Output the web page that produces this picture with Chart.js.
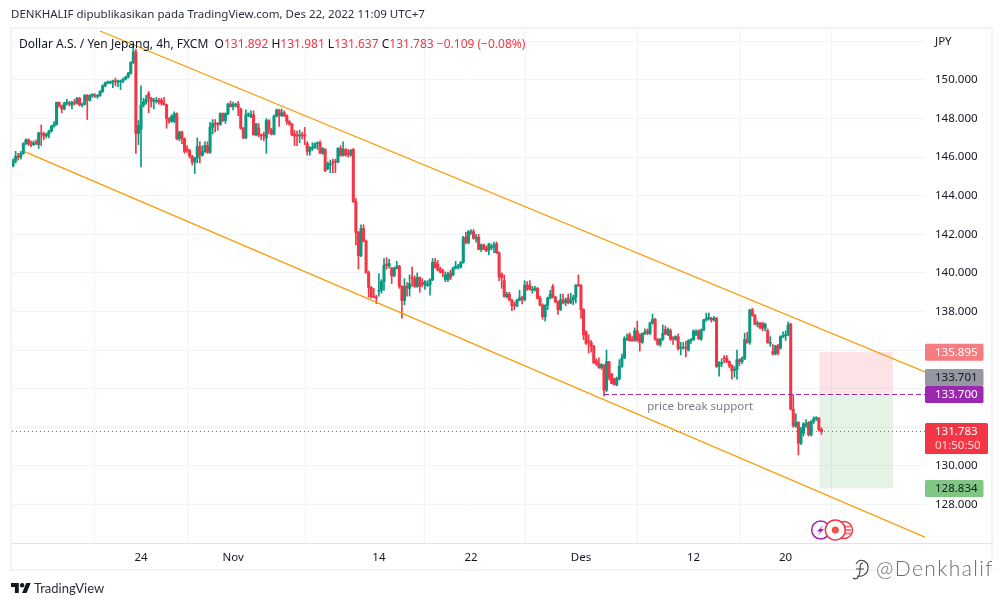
<!DOCTYPE html>
<html>
<head>
<meta charset="utf-8">
<title>USDJPY 4h</title>
<script src="https://cdn.jsdelivr.net/npm/chart.js@4/dist/chart.umd.min.js"></script>
<style>
  body { margin: 0; background: #fff; width: 1004px; height: 607px; overflow: hidden; position: relative; font-family: "Noto Sans", sans-serif; }
  #frame { position: absolute; left: 10px; top: 27px; width: 979px; height: 540px; border: 2px solid #f0f3fa; }
  #timeline { position: absolute; left: 12px; top: 543px; width: 981px; height: 1px; background: #e0e3eb; }
  canvas { position: absolute; left: 0; top: 0; }
  .txt { position: absolute; white-space: pre; }
  #head { left: 11px; top: 6px; font-size: 11.5px; color: #2a2e39; }
  #legend { left: 19px; top: 35px; font-size: 12px; color: #131722; }
  #legend span { color: #f23645; }
  #brand { left: 34px; top: 580px; font: 13px Lato, sans-serif; color: #2a2e39; }
  #logo { position: absolute; left: 11px; top: 583px; }
</style>
</head>
<body>
<div id="frame"></div>
<div id="timeline"></div>
<canvas id="chart" width="1004" height="607"></canvas>
<div class="txt" id="head">DENKHALIF dipublikasikan pada TradingView.com, Des 22, 2022 11:09 UTC+7</div>
<div class="txt" id="legend">Dollar A.S. / Yen Jepang, 4h, FXCM  O<span>131.892</span> H<span>131.981</span> L<span>131.637</span> C<span>131.783</span> <span>−0.109 (−0.08%)</span></div>
<svg id="logo" width="20" height="10" viewBox="0 4 36 18"><path fill="#131722" d="M14 22H7V11H0V4h14v18zM28 22h-8l7.5-18h8L28 22z"/><circle fill="#131722" cx="20" cy="8" r="4"/></svg>
<div class="txt" id="brand">TradingView</div>
<script>
const opens = [
  145.55,145.8,146.05,146,146.2,146.7,146.9,146.7,146.65,146.75,
  146.65,147.25,147.2,147.1,147.2,147.35,147.6,147.7,148.85,148.65,
  148.5,148.8,148.8,148.7,148.85,148.8,149.05,148.7,148.75,149.2,
  148.95,149.2,149.2,149.15,149.2,149.4,149.7,149.85,149.85,149.9,
  149.95,149.9,149.9,149.95,150.05,150.15,150.35,150.92,151.46,147.23,
  147.45,148.7,148.87,149.3,149.05,148.9,148.9,148.95,148.95,148.8,
  148.72,148,147.85,147.85,148.25,146.95,147.3,146.95,146.45,146.35,
  146.05,145.75,145.95,146.55,146.1,146.3,146.6,146.25,147.55,147.75,
  147.72,147.7,148.27,147.9,148.25,148.75,148.62,148.7,148.75,148.5,
  147.5,147,148.2,148.1,148.2,147.15,147.5,147.15,147.12,147,
  147.9,147.4,147.2,148.13,148.44,148.15,148.3,148.15,147.85,147.72,
  147.2,147.15,147.1,147.15,147.15,146.7,146.3,146.45,146.5,146.7,
  146.75,146.2,146.4,145.4,145.6,145.75,145.8,145.75,146.45,146.1,
  146.4,146.2,146.1,146.4,143.7,142.1,140.9,142.3,141.65,140,
  139.25,138.8,138.75,139.05,139.1,139.55,140.45,140.35,140.25,139.85,
  140.25,140.35,139.3,138.57,139.3,139.2,139.75,139.7,139.3,139.77,
  139.5,139.4,139.35,139.4,139.65,140.55,140.45,140.2,140.1,139.65,
  139.65,140,139.9,140.25,140.3,140.3,140.55,141.84,141.57,142.1,
  142.14,141.8,141.85,141.22,141.45,141.3,141.2,141.3,141.35,141.5,
  141.05,139.95,139.6,138.77,138.9,138.6,138.35,138.3,138.6,138.72,
  138.62,139.37,139.37,139.1,139.15,139.2,138.68,138.33,137.73,138.33,
  138.7,139.3,138.75,138.5,138.1,138.6,138.45,138.7,138.45,138.6,
  138.75,139.37,139.37,138.1,136.95,136.45,136.4,136.2,135.45,135.3,
  135.1,135.23,133.93,135.4,134.76,134.5,134.2,134.5,135.17,135.6,
  136.55,136.8,136.55,136.5,137,136.8,136.4,136.87,137,136.87,
  137.4,137.6,136.57,136.3,136.57,137.07,136.83,137,136.6,136.57,
  136.7,136.1,136.1,136.15,136,136.5,136.55,136.82,137,136.58,
  137.05,137.57,137.65,137.65,137.57,137.65,135.15,135.3,135.6,135.58,
  135.41,135.2,134.94,135,135.5,135.41,135.58,136.55,136.4,138.08,
  137.79,137.34,137.4,137.4,137.13,137,136.35,135.93,135.8,136.22,
  136.1,136.7,136.75,136.8,137.35,132.94,132.07,132.25,131.18,131.7,
  132.1,132.25,131.61,132.3,132.45,132.47,131.892
];
const highs = [
  145.9,146.3,146.2,146.3,146.75,146.95,146.95,146.85,146.85,146.9,
  147.3,147.67,147.3,147.25,147.4,147.65,147.85,148.85,148.85,148.7,
  148.85,149,148.9,148.9,149,149.1,149.1,148.8,149.25,149.25,
  149.25,149.3,149.3,149.25,149.45,149.75,149.9,149.95,149.95,150,
  150.1,150,150,150.1,150.2,150.4,150.95,151.8,151.6,147.9,
  149.7,149.05,149.2,149.4,149.1,149.05,149.1,149.05,149.05,149.1,
  148.75,148.05,148.2,148.35,148.3,147.35,147.35,147,146.6,146.4,
  146.1,146,147,146.8,146.6,146.8,146.8,147.8,147.95,147.95,
  147.8,148.3,148.3,148.3,148.8,148.9,148.85,148.8,148.9,148.55,
  147.55,148.45,148.3,148.4,148.4,147.75,147.75,147.2,147.3,148,
  147.95,147.5,148.2,148.5,148.48,148.5,148.4,148.2,147.9,147.75,
  147.4,147.35,147.4,147.3,147.55,146.8,146.55,146.75,146.75,146.8,
  146.85,146.5,146.45,145.75,145.85,145.9,145.9,146.5,146.6,146.8,
  146.45,146.4,146.4,146.45,143.85,142.15,142.5,142.5,141.7,140.1,
  139.3,139.2,138.85,139.95,139.65,140.75,140.8,140.7,140.3,140.3,
  140.6,140.4,139.35,139.7,139.5,139.9,140.3,139.85,140,139.8,
  139.7,139.6,139.6,139.7,140.75,140.75,140.65,140.3,140.2,140.05,
  140.05,140.15,140.3,140.6,140.45,140.6,141.9,142.1,142.2,142.25,
  142.25,142,142,141.5,141.5,141.4,141.55,141.5,141.6,141.6,
  141.1,140,139.9,139,139,138.65,138.5,138.65,139.1,138.8,
  139.6,139.55,139.6,139.3,139.3,139.25,138.8,138.4,138.35,138.75,
  139.1,139.4,138.8,138.55,138.9,138.9,138.7,138.9,138.95,138.85,
  139.4,139.9,139.4,138.15,137,136.8,136.5,136.25,135.55,135.6,
  135.3,135.25,136,135.42,134.8,134.55,134.6,135.5,135.8,136.7,
  136.85,136.9,136.7,137.15,137.5,136.85,136.9,137.1,137.1,137.45,
  137.87,137.65,136.6,136.6,137.3,137.25,137.15,137.1,136.7,136.75,
  136.85,136.4,136.4,136.45,136.55,136.6,137.05,137.05,137.05,137.1,
  137.6,137.92,137.92,137.7,137.75,137.7,135.4,135.55,135.72,135.72,
  135.45,135.25,135.15,136,135.55,135.65,136.87,136.93,138.12,138.17,
  137.85,137.5,137.43,137.43,137.4,137.1,136.7,136.3,136.25,136.3,
  136.75,136.95,137,137.45,137.4,133.7,132.7,132.3,132,132.25,
  132.4,132.3,132.35,132.55,132.55,132.5,131.981
];
const lows = [
  145.5,145.7,145.85,145.9,146.15,146.65,146.6,146.55,146.6,146.65,
  146.45,146.6,146.9,147,147,147.3,147.55,147.65,148.6,148.3,
  148.45,148.7,148.65,148.5,148.7,148.75,148.65,148.6,148.7,147.95,
  148.9,149.1,149.1,149.05,149.15,149.35,149.65,149.8,149.8,149.6,
  149.7,149.65,149.5,149.85,150,150.1,150.3,150.85,146.2,146.65,
  145.5,148.6,148.75,148.3,148.6,148.5,148.8,148.75,148.7,148.7,
  147.5,147.75,147.8,147.8,146.9,146.85,146.7,146.2,146.25,145.95,
  145.6,145.15,145.7,145.7,146.05,146.25,146.2,146.2,147.2,147.3,
  147.4,147.65,147.85,147.75,148.2,148.6,148.45,148.6,148.15,147.45,
  146.95,146.95,148.1,148.05,147.15,147.1,147.05,146.9,146.85,146.2,
  147.2,147.15,147.15,148.1,147.6,148.1,148.1,147.7,147.65,147.1,
  146.6,146.6,146.75,146.95,146.65,146.1,146.1,146.35,146.45,146.4,
  146.2,146.15,145.25,145.35,145.2,145.2,145.2,145.7,146.05,146.05,
  146.05,146,146.05,143.65,141.45,140.2,140.85,141.6,140,138.75,
  138.7,138.7,138.4,138.8,138.95,139.1,140.2,140.25,139.45,139.8,
  140.2,139.2,137.65,138.35,138.8,138.8,139.3,139.25,139.25,139,
  139.3,139.15,139.3,138.85,139.6,140.25,140.1,140,139.8,139.55,
  139.55,139.65,139.85,140.2,140.2,140.25,140.5,141.5,141.5,142,
  141.75,141.6,141.2,141.1,141.2,141.1,140.95,141.2,141.05,141,
  139.6,139.2,138.75,138.7,138.55,138.05,138.1,138.25,138.55,138.4,
  138.55,139.1,139.1,138.95,139.05,138.65,138.3,137.6,137.5,138.1,
  138.65,138.7,138.45,137.85,138.05,138.4,138.3,138.4,138.4,138.35,
  138.45,139.3,137.65,136.55,136.3,135.85,135.9,135.3,135.2,135.05,
  135,133.62,133.85,134.45,134.25,134.2,134.15,134.45,135.1,135.55,
  136.5,136.45,136.45,136.45,136.45,135.95,136.35,136.8,136.8,136.8,
  137.35,136.5,136.25,136.2,136.5,136.8,136.75,136.5,136.3,136.5,
  136,135.75,136.05,135.65,135.95,136.35,136.5,136.75,136.55,136.5,
  137,137.5,137.55,137.45,137.5,135.1,134.65,135.15,135.35,135.35,
  135.1,134.49,134.6,134.5,135.2,135.3,135.5,136.35,136.3,137.75,
  137.3,137.2,137.1,137,137,136.35,136.2,135.75,135.75,135.75,
  136.05,136.65,136.5,136.75,132.9,132,132,130.57,131.1,131.55,
  132,131.55,131.55,132.2,132.35,131.8,131.637
];
const closes = [
  145.8,146.05,146,146.2,146.7,146.9,146.7,146.65,146.75,146.7,
  147.25,147.2,147.1,147.2,147.35,147.6,147.7,148.85,148.65,148.5,
  148.8,148.8,148.75,148.85,148.8,149.05,148.7,148.75,149.2,148.95,
  149.2,149.2,149.15,149.2,149.4,149.7,149.85,149.85,149.9,149.9,
  149.9,149.95,149.95,150.05,150.15,150.35,150.92,151.46,147.23,147.65,
  148.7,148.87,149,149.05,148.9,148.95,148.95,148.85,148.8,148.72,
  148,147.85,148.13,148.25,146.95,147.3,146.95,146.3,146.35,146.05,
  145.75,145.95,146.55,146.1,146.3,146.6,146.25,147.55,147.75,147.72,
  147.7,148.27,147.9,148.25,148.75,148.62,148.75,148.75,148.55,147.5,
  147,148.2,148.25,148.2,147.15,147.72,147.15,147.12,147.1,147.9,
  147.4,147.2,148.13,148.44,148.15,148.3,148.15,147.85,147.72,147.15,
  147.1,147.1,147.15,147.1,147.1,146.3,146.5,146.5,146.7,146.75,
  146.2,146.45,145.3,145.7,145.65,145.7,145.75,146.45,146.1,146.4,
  146.1,146.15,146.35,143.7,142.1,140.9,142.3,141.65,140,139.25,
  138.75,138.75,138.7,139.1,139.55,140.4,140.4,140.5,139.85,140.25,
  140.35,139.3,138.57,139.3,139.2,139.45,139.7,139.3,139.77,139.3,
  139.4,139.55,139.4,139.65,140.55,140.3,140.15,140.05,140,139.9,
  139.95,139.75,140.25,140.35,140.35,140.55,141.84,141.57,142.14,142.14,
  141.8,141.85,141.22,141.45,141.22,141.15,141.5,141.35,141.45,141.05,
  139.8,139.75,138.77,138.9,138.6,138.3,138.3,138.6,138.72,138.62,
  139.37,139.17,139.15,139.15,139.2,138.68,138.33,137.73,138.33,138.7,
  138.9,138.75,138.5,138.1,138.6,138.45,138.6,138.45,138.6,138.75,
  139.37,139.35,138.1,136.8,136.35,136.4,136.2,135.35,135.28,135.1,
  135.25,133.93,135.4,134.6,134.27,134.2,134.55,135.17,135.6,136.6,
  136.6,136.5,136.5,137,136.5,136.4,136.87,136.95,136.87,137.4,
  137.6,136.57,136.3,136.57,136.87,136.83,137.07,136.57,136.57,136.7,
  136.07,136.15,136.15,136.1,136.5,136.55,137,136.95,136.58,137.05,
  137.57,137.65,137.7,137.57,137.65,135.15,135.35,135.35,135.55,135.41,
  135.2,134.94,135,135.5,135.41,135.58,136.55,136.4,138.08,137.79,
  137.34,137.4,137.17,137.13,137.34,136.39,136.4,135.8,136.22,135.85,
  136.7,136.75,136.8,137.3,132.94,132.07,132.25,131.18,131.87,132.18,
  132.18,131.61,132.3,132.45,132.47,131.87,131.783
];

const timeTicks = [50, 86, 143, 179, 222, 266, 302];
const timeLabels = ["24", "Nov", "14", "22", "Des", "12", "20"];
const priceTicks = [152, 150, 148, 146, 144, 142, 140, 138, 136, 134, 132, 130, 128];
const priceLabels = ["JPY", "150.000", "148.000", "146.000", "144.000", "142.000", "140.000", "138.000", "", "", "", "130.000", "128.000"];

const upperChannelX = [34, 356.5];
const upperChannelY = [152.54, 134.87];
const lowerChannelX = [4.7, 356.5];
const lowerChannelY = [146.27, 126.31];
const supportX = [231, 356.5];
const supportY = [133.7, 133.7];
const lastPriceX = [-0.43, 356.5];
const lastPriceY = [131.783, 131.783];

const zoneX = [315.2, 344];
const zonePrices = [135.895, 133.7, 128.834];

const tagPrices = [135.895, 133.701, 133.7, 128.834];
const tagLabels = ["135.895", "133.701", "133.700", "128.834"];
const lastPriceLabel = "131.783";
const countdownLabel = "01:50:50";
const noteText = "price break support";
const watermarkText = "@Denkhalif";

const UP = "#089981";
const DOWN = "#f23645";
const candleColors = closes.map((c, i) => (c >= opens[i] ? UP : DOWN));
const FONT = '11.5px "Noto Sans", sans-serif';

const drawings = {
  id: "drawings",
  beforeDatasetsDraw(chart) {
    const { ctx, scales: { x, y } } = chart;
    const left = x.getPixelForValue(zoneX[0]);
    const w = x.getPixelForValue(zoneX[1]) - left;
    const top = y.getPixelForValue(zonePrices[0]);
    const mid = y.getPixelForValue(zonePrices[1]);
    const bot = y.getPixelForValue(zonePrices[2]);
    ctx.save();
    ctx.fillStyle = "rgba(242,54,69,0.14)";
    ctx.fillRect(left, top, w, mid - top);
    ctx.fillStyle = "rgba(76,175,80,0.15)";
    ctx.fillRect(left, mid, w, bot - mid);
    ctx.restore();
  },
  afterDraw(chart) {
    const { ctx, scales: { x, y } } = chart;
    ctx.save();
    ctx.textBaseline = "middle";
    ctx.font = FONT;
    ctx.fillStyle = "#787b86";
    ctx.textAlign = "center";
    ctx.fillText(noteText, x.getPixelForValue(268.6), y.getPixelForValue(133.07));

    ctx.textAlign = "left";
    const tagBg = ["#f77c80", "#9598a1", "#9c27b0", "#81c784"];
    const tagFg = ["#fff", "#131722", "#fff", "#131722"];
    tagPrices.forEach((p, i) => {
      const py = y.getPixelForValue(p);
      // the grey tag is pushed up so it does not hide behind the purple one
      const cy = i === 1 ? py - 17 : py;
      ctx.fillStyle = tagBg[i];
      ctx.beginPath();
      ctx.roundRect(925, cy - 8.5, 58.5, 17, 1.5);
      ctx.fill();
      ctx.fillStyle = tagFg[i];
      ctx.fillText(tagLabels[i], 935, cy + 0.5);
    });

    ctx.fillStyle = DOWN;
    ctx.beginPath();
    ctx.roundRect(925, 423, 63, 31, 1.5);
    ctx.fill();
    ctx.fillStyle = "#fff";
    ctx.fillText(lastPriceLabel, 935, 431.5);
    ctx.fillStyle = "rgba(255,255,255,0.8)";
    ctx.fillText(countdownLabel, 935, 446);

    // event badges under the last candles
    const badge = (cx, r, color) => {
      ctx.beginPath();
      ctx.arc(cx, 530, r, 0, Math.PI * 2);
      ctx.fillStyle = "#fff";
      ctx.fill();
      ctx.lineWidth = 1.5;
      ctx.strokeStyle = color;
      ctx.stroke();
    };
    badge(820.7, 9, "#9c27b0");
    ctx.fillStyle = "#9c27b0";
    ctx.beginPath();
    ctx.moveTo(823.5, 524.5); ctx.lineTo(817, 531.5); ctx.lineTo(820.5, 531.5);
    ctx.lineTo(817.5, 536); ctx.lineTo(824, 529); ctx.lineTo(820.5, 529);
    ctx.closePath();
    ctx.fill();
    badge(844, 8.5, DOWN);
    ctx.fillStyle = "#f77c80";
    [525.5, 529, 532.5].forEach((sy) => ctx.fillRect(845, sy, 6, 2));
    badge(835.3, 10, DOWN);
    ctx.fillStyle = "#f0524f";
    ctx.beginPath();
    ctx.arc(835.3, 530, 3.6, 0, Math.PI * 2);
    ctx.fill();

    // watermark sits over the frame, white halo cuts the line
    ctx.font = '300 21px Lato, sans-serif';
    ctx.letterSpacing = "1.4px";
    ctx.lineJoin = "round";
    ctx.lineWidth = 4;
    ctx.strokeStyle = "#fff";
    ctx.strokeText(watermarkText, 876, 569);
    ctx.fillStyle = "#6a6d75";
    ctx.fillText(watermarkText, 876, 569);
    ctx.letterSpacing = "0px";
    ctx.strokeStyle = "#fff";
    ctx.lineWidth = 4;
    const logo = () => {
      ctx.beginPath();
      ctx.moveTo(856, 564);
      ctx.bezierCurveTo(860, 557, 869, 561, 868, 569);
      ctx.bezierCurveTo(867, 575, 862, 577, 857, 576);
      ctx.moveTo(863, 563);
      ctx.bezierCurveTo(860, 563, 860, 566, 860, 570);
      ctx.bezierCurveTo(860, 576, 857, 581, 853, 578);
      ctx.moveTo(856, 569);
      ctx.lineTo(864, 569);
      ctx.stroke();
    };
    logo();
    ctx.strokeStyle = "#3a3d45";
    ctx.lineWidth = 1.1;
    logo();
    ctx.restore();
  }
};

const toPoints = (xs, ys) => xs.map((v, i) => ({ x: v, y: ys[i] }));
const overlayLine = (xs, ys, color, dash, width) => ({
  type: "line",
  data: toPoints(xs, ys),
  borderColor: color,
  borderWidth: width,
  borderDash: dash,
  pointRadius: 0,
  tension: 0,
  order: 1
});

new Chart(document.getElementById("chart"), {
  data: {
    datasets: [
      overlayLine(upperChannelX, upperChannelY, "#ff9800", [], 1.3),
      overlayLine(lowerChannelX, lowerChannelY, "#ff9800", [], 1.3),
      overlayLine(supportX, supportY, "#9c27b0", [5, 3], 1),
      overlayLine(lastPriceX, lastPriceY, DOWN, [1, 3], 1),
      {
        type: "bar",
        data: closes.map((c, i) => ({ x: i, y: [opens[i], c] })),
        backgroundColor: candleColors,
        barThickness: 2.4,
        minBarLength: 1,
        grouped: false,
        order: 2
      },
      {
        type: "bar",
        data: closes.map((c, i) => ({ x: i, y: [lows[i], highs[i]] })),
        backgroundColor: candleColors,
        barThickness: 1,
        grouped: false,
        order: 3
      }
    ]
  },
  options: {
    responsive: false,
    animation: false,
    layout: { padding: { left: 12, top: 29, right: 11, bottom: 37 } },
    plugins: { legend: { display: false }, tooltip: { enabled: false } },
    scales: {
      x: {
        type: "linear",
        min: -0.43,
        max: 356.5,
        offset: false,
        border: { display: false },
        grid: { color: "#f0f3fa", drawTicks: false },
        afterBuildTicks: (s) => { s.ticks = timeTicks.map((v) => ({ value: v })); },
        afterFit: (s) => { s.height = 27; },
        ticks: {
          autoSkip: false,
          maxRotation: 0,
          padding: 8,
          color: "#131722",
          font: { family: '"Noto Sans", sans-serif', size: 11.5 },
          callback: (v) => timeLabels[timeTicks.indexOf(v)]
        }
      },
      y: {
        position: "right",
        min: 126.004,
        max: 152.643,
        border: { display: false },
        grid: { color: "#f0f3fa", drawTicks: false },
        afterBuildTicks: (s) => { s.ticks = priceTicks.map((v) => ({ value: v })); },
        afterFit: (s) => { s.width = 68; },
        ticks: {
          autoSkip: false,
          padding: 10,
          color: "#131722",
          font: { family: '"Noto Sans", sans-serif', size: 11.5 },
          callback: (v) => priceLabels[priceTicks.indexOf(v)]
        }
      }
    }
  },
  plugins: [drawings]
});
</script>
</body>
</html>
